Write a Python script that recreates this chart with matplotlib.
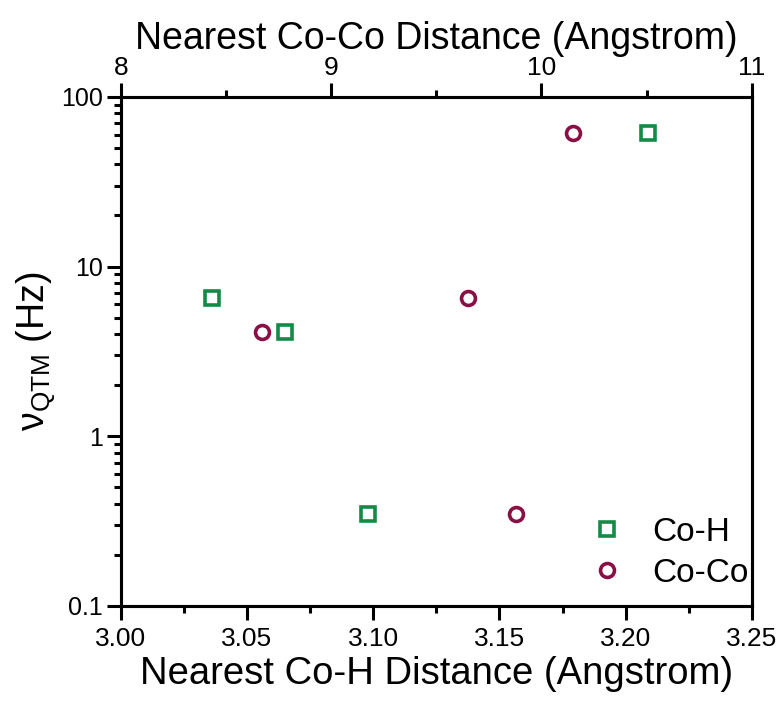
import matplotlib
matplotlib.use("Agg")
import matplotlib.pyplot as plt
from matplotlib.ticker import LogLocator, NullFormatter, FixedLocator

plt.rcParams["font.family"] = ["Liberation Sans", "DejaVu Sans"]
plt.rcParams["mathtext.fontset"] = "custom"
plt.rcParams["mathtext.rm"] = "Liberation Sans"

# -----------------------------
# DATA
# -----------------------------
coh_dist = [3.036, 3.065, 3.098, 3.209]      # nearest Co-H distance (A)
coh_rate = [6.5, 4.1, 0.35, 61.0]            # QTM rate (Hz)

coco_dist = [8.67, 9.65, 9.88, 10.15]        # nearest Co-Co distance (A)
coco_rate = [4.1, 6.5, 0.35, 61.0]           # QTM rate (Hz)

bottom_ticks = [3.00, 3.05, 3.10, 3.15, 3.20, 3.25]
top_ticks = [8, 9, 10, 11]
y_ticks = [0.1, 1, 10, 100]
y_ticklabels = ["0.1", "1", "10", "100"]

green = "#138a45"
maroon = "#8a0f45"

# -----------------------------
# PLOT
# -----------------------------
fig = plt.figure(figsize=(7.84, 7.07), dpi=100)
ax = fig.add_axes([0.154, 0.143, 0.805, 0.720])
ax_top = ax.twiny()

h1, = ax.plot(coh_dist, coh_rate, linestyle="none", marker="s", markersize=9.5,
              markerfacecolor="none", markeredgecolor=green, markeredgewidth=2.6,
              label="Co-H")
h2, = ax_top.plot(coco_dist, coco_rate, linestyle="none", marker="o", markersize=10,
                  markerfacecolor="none", markeredgecolor=maroon, markeredgewidth=2.6,
                  label="Co-Co")

ax.set_yscale("log")
ax.set_ylim(0.1, 100)
ax.set_xlim(3.00, 3.25)
ax_top.set_xlim(8, 11)

ax.set_xticks(bottom_ticks)
ax.set_xticklabels([f"{t:.2f}" for t in bottom_ticks])
ax.xaxis.set_minor_locator(FixedLocator([3.025, 3.075, 3.125, 3.175, 3.225]))
ax_top.set_xticks(top_ticks)
ax_top.set_xticklabels([str(t) for t in top_ticks])
ax_top.xaxis.set_minor_locator(FixedLocator([8.5, 9.5, 10.5]))

ax.set_yticks(y_ticks)
ax.set_yticklabels(y_ticklabels)
ax.yaxis.set_minor_locator(LogLocator(base=10, subs=range(2, 10)))
ax.yaxis.set_minor_formatter(NullFormatter())

for a in (ax, ax_top):
    for s in a.spines.values():
        s.set_linewidth(2.2)

ax.tick_params(axis="x", which="major", direction="out", length=10, width=2.2,
               labelsize=19, pad=5, top=False)
ax.tick_params(axis="x", which="minor", direction="out", length=5, width=2.2, top=False)
ax.tick_params(axis="y", which="major", direction="out", length=10, width=2.2,
               labelsize=18, pad=3, right=False)
ax.tick_params(axis="y", which="minor", direction="out", length=5, width=2.2, right=False)
ax_top.tick_params(axis="x", which="major", direction="out", length=10, width=2.2,
                   labelsize=19, pad=2)
ax_top.tick_params(axis="x", which="minor", direction="out", length=5, width=2.2)

ax.set_xlabel("Nearest Co-H Distance (Angstrom)", fontsize=27.5, labelpad=4)
ax_top.set_xlabel("Nearest Co-Co Distance (Angstrom)", fontsize=27, labelpad=5)
ax.set_ylabel(r"$\mathregular{ν_{QTM}}$ (Hz)", fontsize=27, labelpad=2)

ax.legend(handles=[h1, h2], loc="lower right", frameon=False, fontsize=24,
          handlelength=1.2, handletextpad=0.75, borderaxespad=0.12, labelspacing=0.3,
          bbox_to_anchor=(1.022, 0.0))

plt.savefig("out.png", dpi=100)
plt.close()
